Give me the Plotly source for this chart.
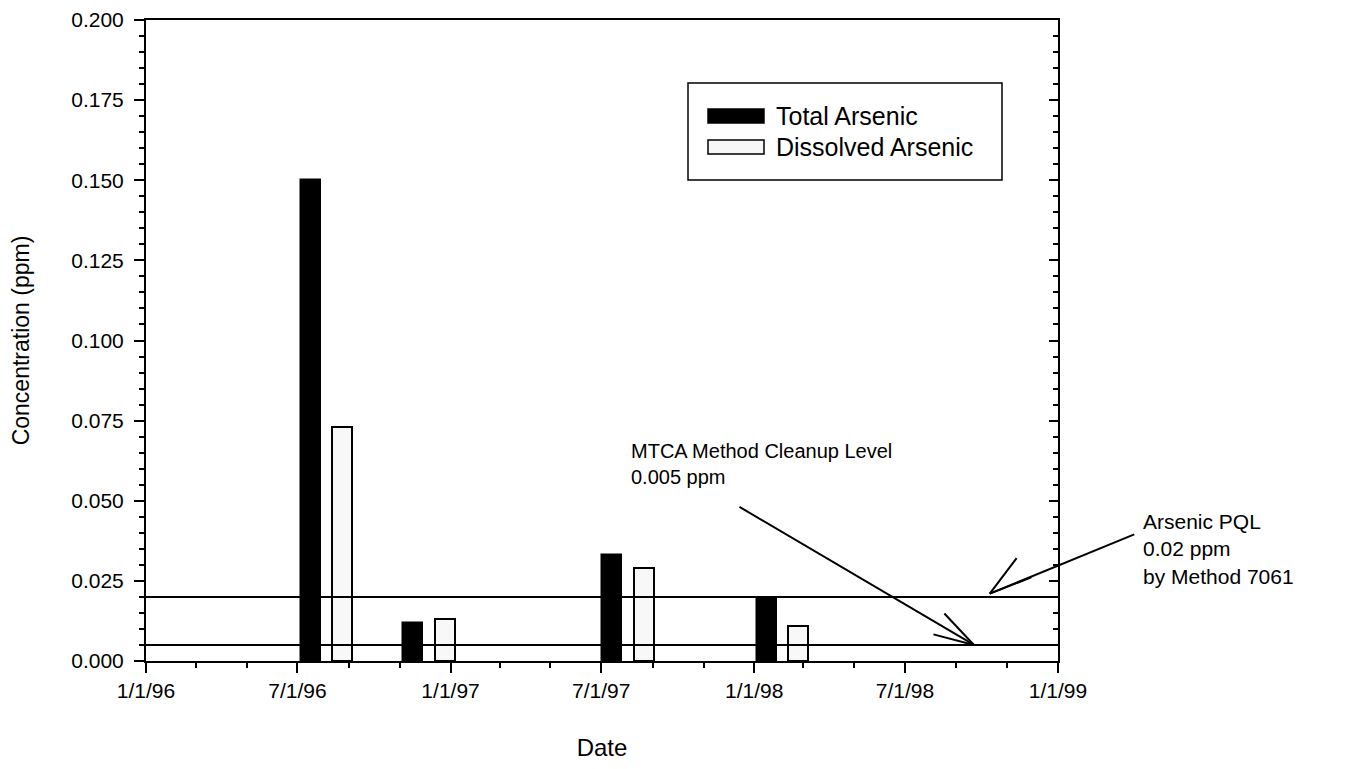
import plotly.graph_objects as go

# ---------------- data ----------------
total_dates = ["1996-07-17", "1996-11-17", "1997-07-14", "1998-01-16"]
total_values = [0.150, 0.012, 0.033, 0.0195]
dissolved_dates = ["1996-08-24", "1996-12-25", "1997-08-21", "1998-02-22"]
dissolved_values = [0.073, 0.013, 0.029, 0.011]
series_names = ["Total Arsenic", "Dissolved Arsenic"]
pql_level = 0.02
mtca_level = 0.005
x_range = ["1996-01-01", "1999-01-01"]
y_range = [0, 0.2]

BAR_WIDTH_MS = 24 * 24 * 3600 * 1000
FONT = "Arial, Liberation Sans, sans-serif"

# page has an 8px body margin; figure sized to fit the 1347x769 window
OFF = 8
FIG_W, FIG_H = 1347 - OFF, 769 - OFF
# plot-area geometry in screen pixels
L, R, T, B = 146, 1058, 20, 661
PW, PH = R - L, B - T


def px(xp):
    return (xp - L) / PW


def py(yp):
    return (B - yp) / PH


fig = go.Figure()
fig.add_trace(go.Bar(
    x=total_dates, y=total_values, name=series_names[0],
    width=[BAR_WIDTH_MS] * len(total_dates),
    marker=dict(color="black", line=dict(color="black", width=1.5)),
    showlegend=False,
))
fig.add_trace(go.Bar(
    x=dissolved_dates, y=dissolved_values, name=series_names[1],
    width=[BAR_WIDTH_MS] * len(dissolved_dates),
    marker=dict(color="#f8f8f8", line=dict(color="black", width=2)),
    showlegend=False,
))
# invisible trace to carry the right-hand tick axis
fig.add_trace(go.Scatter(x=[x_range[0]], y=[0], yaxis="y2", mode="markers",
                         marker=dict(opacity=0), showlegend=False, hoverinfo="skip"))

# reference level lines
for lvl in (pql_level, mtca_level):
    fig.add_shape(type="line", xref="paper", x0=0, x1=1, yref="y", y0=lvl, y1=lvl,
                  line=dict(color="black", width=2))

# custom legend (box, swatches, labels)
fig.add_shape(type="rect", xref="paper", yref="paper",
              x0=px(688), x1=px(1002), y0=py(180), y1=py(83),
              line=dict(color="black", width=1.5), fillcolor="white", layer="above")
swatch_rows = [(109, 123, "black"), (140, 154, "#f8f8f8")]
for (top, bot, col), name in zip(swatch_rows, series_names):
    fig.add_shape(type="rect", xref="paper", yref="paper",
                  x0=px(708), x1=px(764), y0=py(bot), y1=py(top),
                  line=dict(color="black", width=1.5), fillcolor=col, layer="above")
    fig.add_annotation(xref="paper", yref="paper", x=px(774),
                       y=py((top + bot) / 2), text=name, showarrow=False,
                       xanchor="left", yanchor="middle",
                       font=dict(family=FONT, size=25, color="black"))

# annotation texts
fig.add_annotation(xref="x", yref="y", x="1997-08-04", y=0.0615,
                   text="MTCA Method Cleanup Level<br>0.005 ppm", showarrow=False,
                   xanchor="left", yanchor="middle", align="left",
                   font=dict(family=FONT, size=20, color="black"))
fig.add_annotation(xref="paper", yref="y", x=px(1141), y=0.0349,
                   text="Arsenic PQL<br>0.02 ppm<br>by Method 7061", showarrow=False,
                   xanchor="left", yanchor="middle", align="left",
                   font=dict(family=FONT, size=21, color="black"))


# arrows: shaft + two arms meeting at the tip
def arrow(x, y, shaft, arms):
    for ax, ay in [shaft] + arms:
        fig.add_annotation(xref="x", yref="y", x=x, y=y, ax=ax, ay=ay, text="",
                           showarrow=True, arrowhead=0, arrowwidth=2,
                           arrowcolor="black", standoff=0, startstandoff=0)


arrow("1998-09-22", mtca_level, (-236, -139), [(-31, -33), (-42, -11)])
arrow("1998-10-11", 0.021, (146, -60), [(28, -37), (43, -17)])

fig.update_layout(
    width=FIG_W, height=FIG_H,
    margin=dict(l=L - OFF, r=FIG_W - (R - OFF), t=T - OFF, b=FIG_H - (B - OFF)),
    paper_bgcolor="white", plot_bgcolor="white",
    barmode="overlay", bargap=0,
    font=dict(family=FONT, size=21, color="black"),
    xaxis=dict(
        type="date", range=x_range, tick0="1996-01-01", dtick="M6",
        tickformat="%-m/%-d/%y", ticks="outside", ticklen=10, tickwidth=1.5,
        tickcolor="black", showline=True, linecolor="black", linewidth=2,
        mirror=True, showgrid=False, zeroline=False, automargin=False,
        minor=dict(dtick="M2", ticks="outside", ticklen=5, tickwidth=1.5,
                   tickcolor="black", showgrid=False),
        tickfont=dict(family=FONT, size=21),
        title=dict(text="Date", font=dict(family=FONT, size=24), standoff=38),
    ),
    yaxis=dict(
        range=y_range, dtick=0.025, tickformat=".3f", ticks="outside", ticklen=10,
        tickwidth=1.5, tickcolor="black", showline=True, linecolor="black",
        linewidth=2, mirror=True, showgrid=False, zeroline=False, automargin=False,
        ticklabelstandoff=6,
        minor=dict(dtick=0.005, ticks="outside", ticklen=5, tickwidth=1.5,
                   tickcolor="black", showgrid=False),
        tickfont=dict(family=FONT, size=21),
        title=dict(text="Concentration (ppm)", font=dict(family=FONT, size=23),
                   standoff=38),
    ),
    yaxis2=dict(
        overlaying="y", side="right", range=y_range, dtick=0.025, ticks="inside",
        ticklen=9, tickwidth=1.5, tickcolor="black", showticklabels=False,
        showgrid=False, zeroline=False, showline=False, automargin=False,
        minor=dict(dtick=0.005, ticks="inside", ticklen=5, tickwidth=1.5,
                   tickcolor="black", showgrid=False),
    ),
)

fig.write_html("out.html")
